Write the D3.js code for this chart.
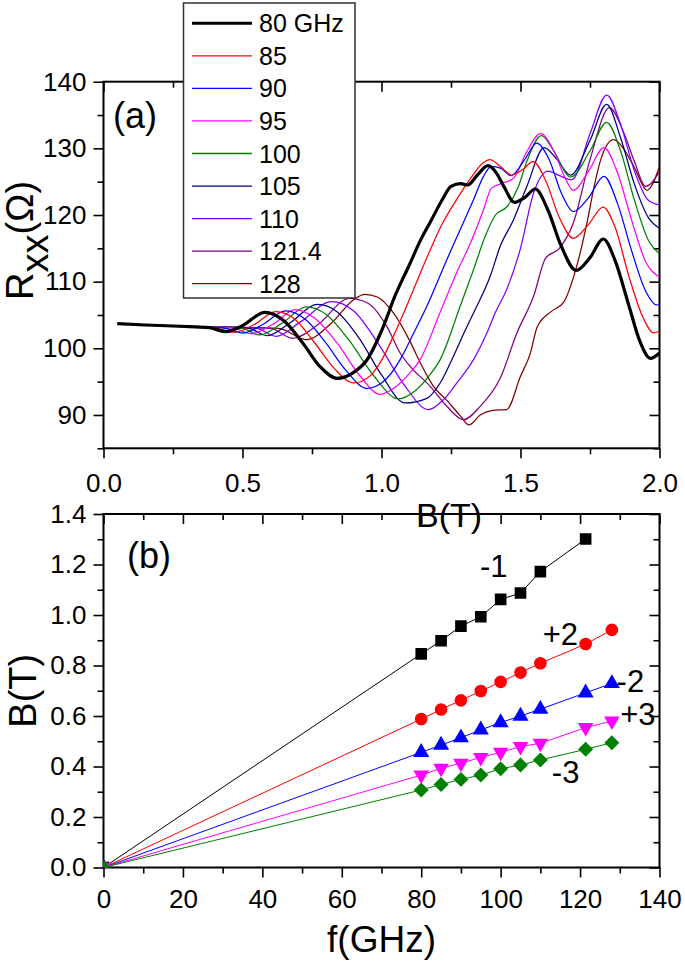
<!DOCTYPE html>
<html><head><meta charset="utf-8">
<script src="https://cdn.jsdelivr.net/npm/d3@7"></script>
<style>
body{margin:0;background:#fff;}
svg{display:block;}
text{font-family:"Liberation Sans",Arial,Helvetica,sans-serif;}
</style>
</head><body>
<svg id="chart" width="685" height="968"></svg>
<script>
// ---------------- Panel (a) data: Rxx(B) for each microwave frequency ----------------
const legendLabels = ["80 GHz","85","90","95","100","105","110","121.4","128"];
const curve80 = [[0.05,103.7],[0.15,103.5],[0.25,103.35],[0.33,103.2],[0.38,103.1],[0.44,102.5],[0.50,103.4],[0.58,105.4],[0.65,104.1],[0.72,100.6],[0.78,97.2],[0.84,95.5],[0.90,96.4],[0.95,98.4],[1.00,102.6],[1.05,108.0],[1.10,112.5],[1.14,116.2],[1.18,119.3],[1.22,122.4],[1.25,124.3],[1.285,124.7],[1.31,124.5],[1.345,126.0],[1.383,127.4],[1.41,126.5],[1.44,124.3],[1.478,121.9],[1.515,122.6],[1.553,123.9],[1.60,120.6],[1.645,115.5],[1.70,111.7],[1.75,113.6],[1.798,116.4],[1.84,113.2],[1.89,106.4],[1.93,101.0],[1.967,98.5],[2.0,99.3]];
const curve85 = [[0.05,103.7],[0.15,103.5],[0.25,103.35],[0.35,103.2],[0.41,103.0],[0.47,102.4],[0.54,103.5],[0.62,105.5],[0.69,104.3],[0.76,100.8],[0.83,97.0],[0.90,94.8],[0.96,95.9],[1.00,98.2],[1.05,102.5],[1.09,106.3],[1.16,113.3],[1.22,118.8],[1.27,122.3],[1.32,125.5],[1.365,127.8],[1.39,128.3],[1.43,127.2],[1.468,126.0],[1.51,126.9],[1.545,128.0],[1.59,125.2],[1.64,119.6],[1.69,116.5],[1.745,118.6],[1.797,121.2],[1.84,118.2],[1.89,110.8],[1.94,104.7],[1.98,102.3],[2.0,102.6]];
const curve90 = [[0.05,103.7],[0.15,103.5],[0.25,103.35],[0.35,103.25],[0.44,103.0],[0.50,102.3],[0.57,103.5],[0.655,105.6],[0.73,104.2],[0.80,100.8],[0.87,96.8],[0.947,94.0],[1.00,94.8],[1.03,96.0],[1.067,98.3],[1.11,101.8],[1.163,106.3],[1.235,113.3],[1.283,117.8],[1.331,122.3],[1.367,125.8],[1.395,127.3],[1.43,127.0],[1.465,125.9],[1.515,128.3],[1.558,130.8],[1.60,128.6],[1.65,123.0],[1.69,120.5],[1.745,122.6],[1.80,125.8],[1.85,121.6],[1.90,114.6],[1.95,108.6],[1.99,106.5],[2.0,106.7]];
const curve95 = [[0.05,103.7],[0.15,103.5],[0.25,103.35],[0.35,103.25],[0.47,103.0],[0.53,102.2],[0.61,103.6],[0.69,105.8],[0.76,104.5],[0.84,100.8],[0.92,96.0],[0.995,93.1],[1.05,94.2],[1.10,96.2],[1.139,98.3],[1.21,105.3],[1.27,111.3],[1.32,115.8],[1.367,120.8],[1.395,124.0],[1.43,124.7],[1.475,125.5],[1.52,129.3],[1.572,132.2],[1.62,129.6],[1.66,125.6],[1.69,123.7],[1.745,126.6],[1.80,130.1],[1.85,126.2],[1.90,119.2],[1.95,113.0],[2.0,110.7]];
const curve100 = [[0.05,103.7],[0.15,103.5],[0.25,103.35],[0.35,103.25],[0.50,103.0],[0.56,102.0],[0.64,103.7],[0.73,106.2],[0.80,105.1],[0.88,101.4],[0.97,96.0],[1.061,92.4],[1.12,93.6],[1.17,95.8],[1.211,98.3],[1.283,106.3],[1.331,111.8],[1.373,116.8],[1.41,120.0],[1.45,121.2],[1.49,124.0],[1.525,128.3],[1.575,131.9],[1.62,129.6],[1.68,125.7],[1.75,129.6],[1.81,133.9],[1.86,129.6],[1.91,122.2],[1.96,116.2],[2.0,114.2]];
const curve105 = [[0.05,103.7],[0.15,103.5],[0.25,103.35],[0.35,103.25],[0.52,103.0],[0.59,101.9],[0.67,103.8],[0.77,106.6],[0.84,105.5],[0.92,101.5],[1.00,96.0],[1.085,91.8],[1.163,92.5],[1.211,94.8],[1.253,98.3],[1.30,102.6],[1.331,105.3],[1.391,110.8],[1.427,115.3],[1.475,119.3],[1.523,124.3],[1.585,130.1],[1.63,128.4],[1.68,126.0],[1.75,131.2],[1.81,136.6],[1.86,131.6],[1.91,124.6],[1.96,119.6],[2.0,118.0]];
const curve110 = [[0.05,103.7],[0.15,103.5],[0.25,103.35],[0.35,103.25],[0.55,103.0],[0.62,101.8],[0.71,104.0],[0.82,107.0],[0.90,105.6],[0.99,100.6],[1.08,94.6],[1.169,90.8],[1.223,92.3],[1.271,94.8],[1.331,98.3],[1.379,102.3],[1.41,105.4],[1.45,108.8],[1.50,115.0],[1.547,123.3],[1.60,126.6],[1.64,125.9],[1.685,125.3],[1.75,132.2],[1.81,138.0],[1.86,133.6],[1.91,126.6],[1.96,122.2],[2.0,121.5]];
const curve121 = [[0.05,103.7],[0.15,103.5],[0.25,103.35],[0.35,103.25],[0.60,103.0],[0.68,101.5],[0.77,103.5],[0.885,107.5],[0.95,106.8],[1.019,103.3],[1.067,99.3],[1.103,97.3],[1.175,94.3],[1.235,91.3],[1.295,89.3],[1.355,91.3],[1.427,95.5],[1.487,102.3],[1.547,107.8],[1.59,113.5],[1.64,115.0],[1.69,118.8],[1.75,128.3],[1.82,136.1],[1.87,132.5],[1.91,128.0],[1.95,124.3],[2.0,126.5]];
const curve128 = [[0.05,103.7],[0.15,103.5],[0.25,103.35],[0.35,103.25],[0.63,103.0],[0.73,101.3],[0.82,103.8],[0.90,107.3],[0.94,108.1],[0.985,107.7],[1.043,105.3],[1.103,101.0],[1.14,97.8],[1.187,94.3],[1.235,92.2],[1.283,89.9],[1.315,88.5],[1.355,90.0],[1.40,90.7],[1.45,90.8],[1.50,95.8],[1.535,99.2],[1.56,103.2],[1.61,105.5],[1.655,106.9],[1.70,112.0],[1.74,119.0],[1.765,124.3],[1.79,128.5],[1.835,131.3],[1.87,130.0],[1.91,127.1],[1.955,123.7],[2.0,127.3]];
const curves = [curve80,curve85,curve90,curve95,curve100,curve105,curve110,curve121,curve128];
const xTicksA = [0.0,0.5,1.0,1.5,2.0];
const yTicksA = [90,100,110,120,130,140];

// ---------------- Panel (b) data: B position of features vs frequency ----------------
const freqs = [0,80,85,90,95,100,105,110,121.4,128];
const bMinus1 = [0,0.846,0.898,0.956,0.993,1.062,1.087,1.172,1.301,null];
const bPlus2  = [0,0.588,0.626,0.662,0.699,0.735,0.772,0.809,0.885,0.941];
const bMinus2 = [0,0.456,0.485,0.514,0.545,0.574,0.600,0.627,0.692,0.729];
const bPlus3  = [0,0.366,0.393,0.413,0.436,0.456,0.479,0.492,0.554,0.580];
const bMinus3 = [0,0.307,0.329,0.349,0.366,0.391,0.406,0.426,0.468,0.494];
const seriesLabels = ["-1","+2","-2","+3","-3"];
const xTicksB = [0,20,40,60,80,100,120,140];
const yTicksB = [0.0,0.2,0.4,0.6,0.8,1.0,1.2,1.4];

// ---------------- styles ----------------
const curveColors = ["#000000","#ff0000","#0000ff","#ff00ff","#008000","#000080","#8000ff","#800080","#800000"];
const seriesColors = ["#000000","#ff0000","#0000ff","#ff00ff","#008000"];
const FONT = '"Liberation Sans",Arial,Helvetica,sans-serif';

const svg = d3.select("#chart");
svg.append("rect").attr("width",685).attr("height",968).attr("fill","#fff");

const L = 103.5, R = 659.5;
const A = {top:81.7, bottom:448.3};
const Bp = {top:514, bottom:867.5};

function drawAxes(g, x, y, top, bottom, xMaj, xMin, yMaj, yMin, xFmt, yFmt, xPad) {
  const style = sel => {
    sel.select(".domain").remove();
    sel.selectAll("line").attr("stroke","#000").attr("stroke-width",1.6);
    sel.selectAll("text").attr("font-family",FONT).attr("font-size",26).attr("fill","#000");
  };
  g.append("g").attr("transform",`translate(0,${bottom})`)
    .call(d3.axisBottom(x).tickValues(xMaj).tickSize(10).tickPadding(xPad).tickFormat(xFmt)).call(style);
  g.append("g").attr("transform",`translate(0,${bottom})`)
    .call(d3.axisBottom(x).tickValues(xMin).tickSize(6).tickFormat("")).call(style);
  g.append("g").attr("transform",`translate(0,${top})`)
    .call(d3.axisTop(x).tickValues(xMaj).tickSize(-10).tickFormat("")).call(style);
  g.append("g").attr("transform",`translate(0,${top})`)
    .call(d3.axisTop(x).tickValues(xMin).tickSize(-6).tickFormat("")).call(style);
  g.append("g").attr("transform",`translate(${L},0)`)
    .call(d3.axisLeft(y).tickValues(yMaj).tickSize(10).tickPadding(7).tickFormat(yFmt)).call(style);
  g.append("g").attr("transform",`translate(${L},0)`)
    .call(d3.axisLeft(y).tickValues(yMin).tickSize(6).tickFormat("")).call(style);
  g.append("g").attr("transform",`translate(${R},0)`)
    .call(d3.axisRight(y).tickValues(yMaj).tickSize(-10).tickFormat("")).call(style);
  g.append("g").attr("transform",`translate(${R},0)`)
    .call(d3.axisRight(y).tickValues(yMin).tickSize(-6).tickFormat("")).call(style);
  g.append("rect").attr("x",L).attr("y",top).attr("width",R-L).attr("height",bottom-top)
    .attr("fill","none").attr("stroke","#000").attr("stroke-width",2);
}

// ================= Panel (a) =================
const xA = d3.scaleLinear().domain([0,2]).range([L,R]);
const yA = d3.scaleLinear().domain([85,140]).range([A.bottom,A.top]);
const gA = svg.append("g");
svg.append("clipPath").attr("id","clipA").append("rect")
  .attr("x",L).attr("y",A.top).attr("width",R-L).attr("height",A.bottom-A.top);

const minorA_x = [0.25,0.75,1.25,1.75];
const minorA_y = [85,95,105,115,125,135];
drawAxes(gA, xA, yA, A.top, A.bottom, xTicksA, minorA_x, yTicksA, minorA_y, d3.format(".1f"), d3.format("d"), 15);

const lineA = d3.line().x(d=>xA(d[0])).y(d=>yA(d[1])).curve(d3.curveMonotoneX);
const curvesG = gA.append("g").attr("clip-path","url(#clipA)");
for (let i = curves.length-1; i >= 0; i--) {
  curvesG.append("path").attr("d", lineA(curves[i])).attr("fill","none")
    .attr("stroke", curveColors[i]).attr("stroke-width", i===0 ? 3.2 : 1.25)
    .attr("stroke-linejoin","round");
}

gA.append("text").attr("x",113).attr("y",128).attr("font-size",36).text("(a)");
gA.append("text").attr("x",449).attr("y",527).attr("text-anchor","middle").attr("font-size",34).text("B(T)");
const yTitleA = gA.append("text").attr("transform","translate(33,300) rotate(-90)").attr("font-size",38);
yTitleA.append("tspan").text("R");
yTitleA.append("tspan").attr("dy",15).text("xx");
yTitleA.append("tspan").attr("dy",-15).text("(Ω)");

const leg = gA.append("g");
leg.append("rect").attr("x",183.5).attr("y",3).attr("width",171.5).attr("height",295)
  .attr("fill","#fff").attr("stroke","#333").attr("stroke-width",1.5);
legendLabels.forEach((lab,i)=>{
  const yy = 23.3 + i*32.55;
  leg.append("line").attr("x1",192).attr("x2",252).attr("y1",yy).attr("y2",yy)
    .attr("stroke",curveColors[i]).attr("stroke-width", i===0 ? 3 : 1.3);
  leg.append("text").attr("x",259).attr("y",yy).attr("dy","0.36em").attr("font-size",25).text(lab);
});

// ================= Panel (b) =================
const xB = d3.scaleLinear().domain([0,140]).range([L,R]);
const yB = d3.scaleLinear().domain([0,1.4]).range([Bp.bottom,Bp.top]);
const gB = svg.append("g");
svg.append("clipPath").attr("id","clipB").append("rect")
  .attr("x",L).attr("y",Bp.top).attr("width",R-L).attr("height",Bp.bottom-Bp.top);
drawAxes(gB, xB, yB, Bp.top, Bp.bottom, xTicksB, [10,30,50,70,90,110,130], yTicksB, [0.1,0.3,0.5,0.7,0.9,1.1,1.3], d3.format("d"), d3.format(".1f"), 12);

const seriesB = [bMinus1,bPlus2,bMinus2,bPlus3,bMinus3];
const lineB = d3.line().defined(d=>d[1]!=null).x(d=>xB(d[0])).y(d=>yB(d[1]));
const plotB = gB.append("g").attr("clip-path","url(#clipB)");
seriesB.forEach((s,i)=>{
  const pts = freqs.map((f,k)=>[f,s[k]]);
  plotB.append("path").attr("d",lineB(pts)).attr("fill","none").attr("stroke",seriesColors[i]).attr("stroke-width",1);
});
const symbols = [
  {t:d3.symbolSquare, size:135, rot:0},
  {t:d3.symbolCircle, size:125, rot:0},
  {t:d3.symbolTriangle, size:112, rot:0},
  {t:d3.symbolTriangle, size:105, rot:180},
  {t:d3.symbolSquare, size:112, rot:45}
];
seriesB.forEach((s,i)=>{
  const sym = d3.symbol().type(symbols[i].t).size(symbols[i].size);
  freqs.forEach((f,k)=>{
    if (s[k]==null) return;
    plotB.append("path").attr("d",sym())
      .attr("transform",`translate(${xB(f)},${yB(s[k])}) rotate(${symbols[i].rot})`)
      .attr("fill",seriesColors[i]);
  });
});
const labelPos = [[94.8,1.149],[110.6,0.881],[129.2,0.696],[130.1,0.564],[112.9,0.336]];
seriesLabels.forEach((t,i)=>{
  gB.append("text").attr("x",xB(labelPos[i][0])).attr("y",yB(labelPos[i][1]))
    .attr("font-size",31).text(t);
});
gB.append("text").attr("x",127).attr("y",568).attr("font-size",36).text("(b)");
gB.append("text").attr("x",(L+R)/2).attr("y",952).attr("text-anchor","middle").attr("font-size",37).text("f(GHz)");
gB.append("text").attr("transform",`translate(36,${(Bp.top+Bp.bottom)/2}) rotate(-90)`)
  .attr("text-anchor","middle").attr("font-size",38).text("B(T)");
</script>
</body></html>
